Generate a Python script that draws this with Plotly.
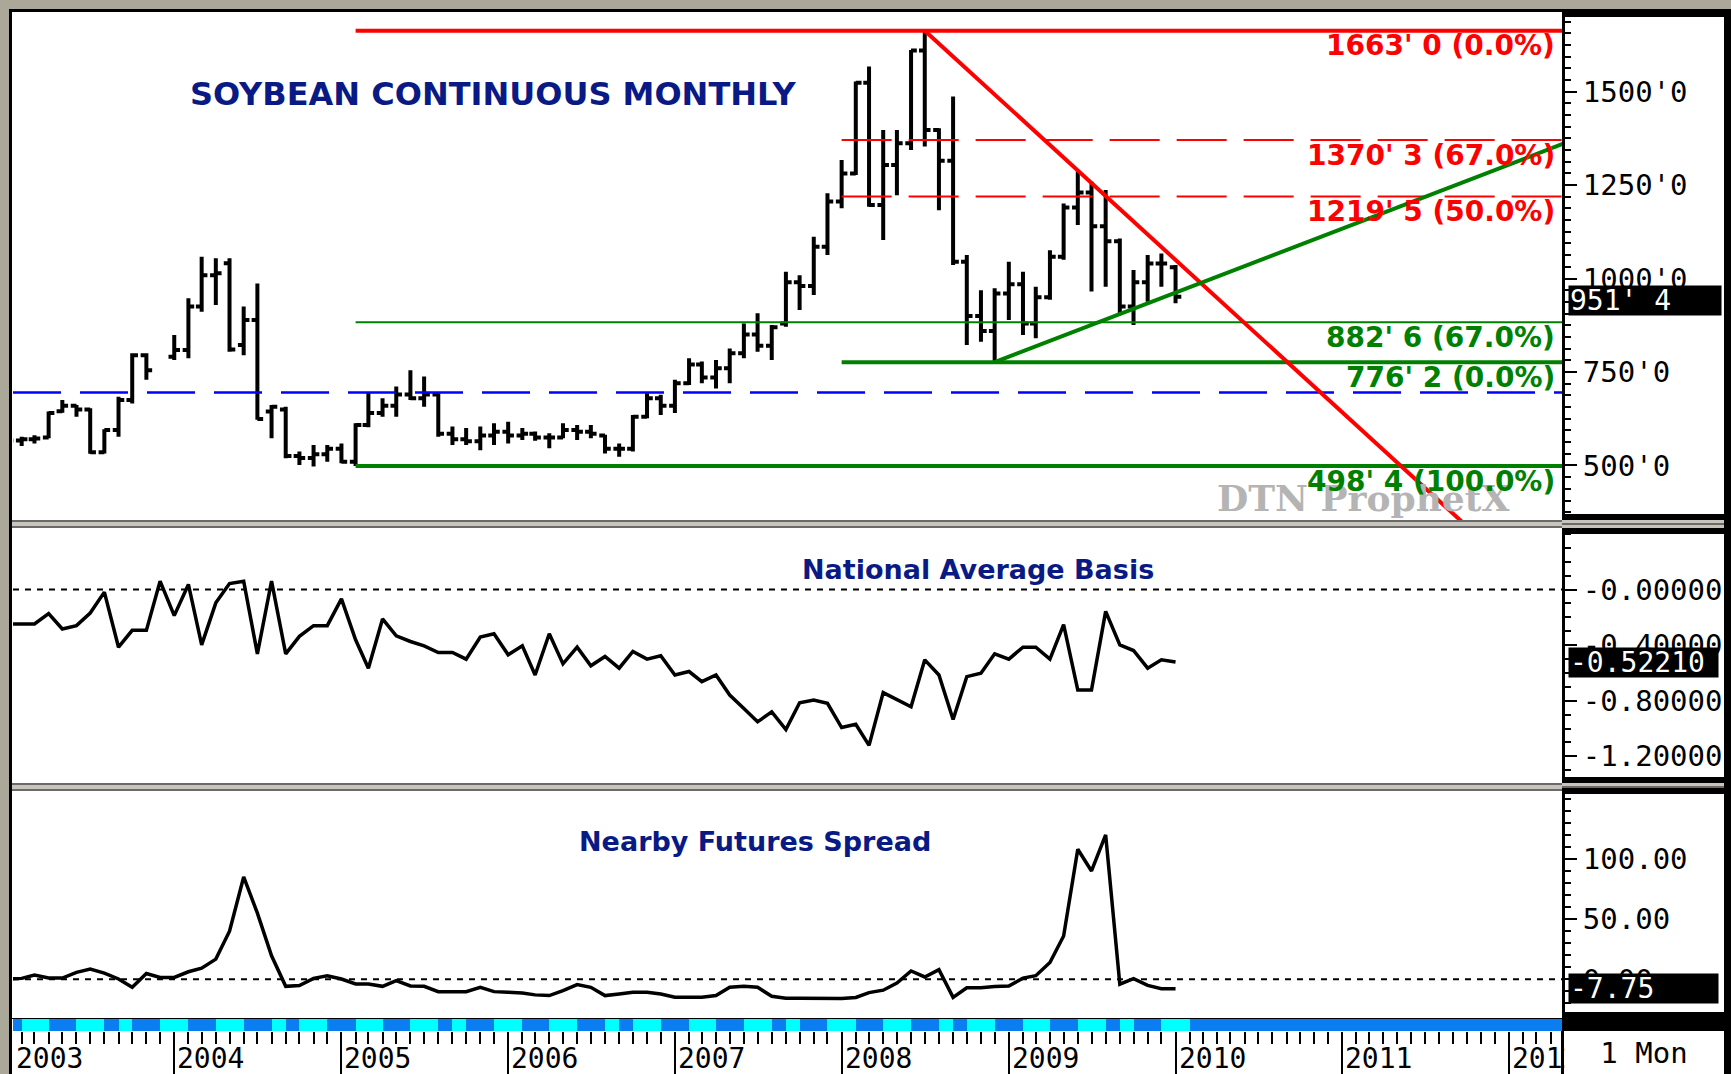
import plotly.graph_objects as go
import pandas as pd

W, H = 1731, 1074

# ---------------- data ----------------
n_months = 85
months = pd.date_range("2003-01-01", periods=n_months, freq="MS")

price_open = [565, 567, 570, 575, 645, 660, 650, 535, 595, 675, 795, None,
              791, 809, 925, 1009, 1041, 822, 889, 644, 650, 525, 520, 530,
              545, 510, 608, 640, 660, 690, 680, 690, 585, 570, 565, 580,
              590, 580, 585, 575, 575, 595, 590, 580, 545, 545, 630, 680,
              660, 720, 770, 735, 760, 800, 850, 820, 880, 990, 980, 1085,
              1206, 1281, 1524, 1197, 1304, 1362, 1610, 1397, 1315, 1045, 900, 860,
              960, 985, 880, 950, 1058, 1190, 1230, 1140, 1100, 925, 990, 1040,
              1030]
price_high = [578, 577, 581, 644, 675, 662, 653, 597, 684, 800, 800, None,
              849, 947, 1058, 1054, 1054, 925, 987, 662, 657, 537, 555, 555,
              559, 613, 695, 680, 711, 755, 738, 693, 604, 600, 604, 613,
              617, 600, 591, 586, 613, 608, 608, 582, 559, 635, 693, 689,
              729, 787, 778, 782, 813, 880, 907, 876, 1018, 1009, 1112, 1228,
              1317, 1527, 1567, 1397, 1397, 1611, 1663, 1402, 1487, 1063, 969, 974,
              1045, 1018, 978, 1076, 1201, 1286, 1259, 1237, 1107, 1023, 1063, 1067,
              1036]
price_low = [556, 552, 559, 573, 641, 630, 531, 532, 577, 666, 729, None,
             782, 787, 911, 929, 804, 795, 622, 573, 519, 501, 497, 510,
             506, 498.5, 602, 630, 630, 675, 657, 577, 555, 555, 541, 555,
             559, 568, 566, 546, 573, 568, 573, 532, 523, 537, 626, 635,
             640, 715, 720, 706, 720, 787, 804, 782, 871, 916, 956, 1063,
             1188, 1277, 1192, 1103, 1223, 1344, 1353, 1183, 1036, 822, 831, 776.25,
             889, 849, 840, 943, 1050, 1143, 965, 978, 907, 876, 938, 978,
             934]
price_close = [567, 570, 572, 640, 660, 650, 535, 595, 675, 795, 755, None,
               809, 925, 1009, 1014, 810, 889, 624, 657, 525, 520, 530, 545,
               510, 608, 640, 660, 690, 680, 690, 585, 570, 565, 580, 590,
               580, 585, 575, 575, 595, 590, 585, 545, 545, 630, 680, 660,
               720, 770, 735, 760, 800, 850, 820, 870, 990, 980, 1085, 1206,
               1281, 1524, 1197, 1304, 1362, 1610, 1397, 1315, 1045, 900, 860, 960,
               985, 880, 950, 1058, 1190, 1230, 1140, 1100, 925, 990, 1040, 1040,
               951.5]

basis = [-0.248, -0.248, -0.248, -0.174, -0.284, -0.260, -0.169, -0.019, -0.415, -0.294, -0.294, 0.060,
         -0.188, 0.036, -0.398, -0.096, 0.043, 0.060, -0.463, 0.060, -0.463, -0.337, -0.260, -0.260,
         -0.067, -0.362, -0.566, -0.212, -0.333, -0.374, -0.405, -0.453, -0.453, -0.501, -0.342, -0.318,
         -0.470, -0.405, -0.615, -0.318, -0.535, -0.415, -0.549, -0.482, -0.566, -0.446, -0.501, -0.477,
         -0.615, -0.590, -0.663, -0.615, -0.759, -0.856, -0.952, -0.880, -1.007, -0.815, -0.795, -0.819,
         -0.993, -0.969, -1.121, -0.742, -0.790, -0.844, -0.506, -0.615, -0.935, -0.627, -0.603, -0.463,
         -0.501, -0.415, -0.415, -0.501, -0.253, -0.723, -0.723, -0.157, -0.398, -0.439, -0.566, -0.506,
         -0.5221]

spread = [0.3, 0.8, 3.6, 1.1, 1.1, 5.8, 8.5, 5.2, 0.3, -6.6, 4.9, 1.6,
          1.6, 6.3, 9.3, 16.8, 40, 85, 55, 19.5, -5.8, -5.2, 0.8, 3,
          0.3, -3.8, -3.8, -5.8, -1.1, -5.5, -5.8, -10.2, -10.2, -10.2, -6.6, -10.2,
          -10.7, -11.3, -12.9, -13.5, -9.3, -4.4, -6.6, -13.5, -12.1, -10.7, -10.7, -12.1,
          -14.8, -14.8, -14.8, -13.5, -6.6, -5.8, -6.6, -14, -15.7, -15.7, -15.7, -15.7,
          -16, -15, -11, -9, -3, 7, 2, 8, -15, -7, -7, -6,
          -5.5, 1, 3, 14, 36, 108, 90, 120, -4, 0.5, -5, -7.75,
          -7.75]

# contract-period strip: B = blue, C = cyan (one letter per month)
strip_colors = list("BCCBBCCBCBBC" "CBBCCBBCBCCB" "BCCBBCCBCBBC" "CBBCCBBCBCCB"
                    "BCCBBCCBCBBC" "CBBCCBBCBCCB" "BCCBBCCBCBBC" "C")

fib_levels = [1663.0, 1370.375, 1219.625, 882.75, 776.25, 498.5]
fib_labels = ["1663' 0 (0.0%)", "1370' 3 (67.0%)", "1219' 5 (50.0%)",
              "882' 6 (67.0%)", "776' 2 (0.0%)", "498' 4 (100.0%)"]
fib_start = ["2005-02-01", "2008-01-01", "2008-01-01", "2005-02-01", "2008-01-01", "2005-02-01"]
blue_level = 695
trend_down_x = ["2008-07-01", "2011-10-01"]
trend_down_y = [1663, 337]
trend_up_x = ["2008-12-01", "2012-05-01"]
trend_up_y = [776.25, 1361.7]
basis_ref = 0
spread_ref = 0

price_ticks = [500, 750, 1000, 1250, 1500]
price_ticktext = ["500'0", "750'0", "1000'0", "1250'0", "1500'0"]
basis_ticks = [0, -0.4, -0.8, -1.2]
basis_ticktext = ["-0.00000", "-0.40000", "-0.80000", "-1.20000"]
spread_ticks = [0, 50, 100]
spread_ticktext = ["0.00", "50.00", "100.00"]
year_labels = ["2003", "2004", "2005", "2006", "2007", "2008", "2009", "2010", "2011", "2012"]
year_pos = ["2003-01-13", "2004-01-01", "2005-01-01", "2006-01-01", "2007-01-01",
            "2008-01-01", "2009-01-01", "2010-01-01", "2011-01-01", "2012-01-01"]

last_price_text = "951' 4"
last_basis_text = "-0.52210"
last_spread_text = "-7.75"

# ---------------- layout geometry (pixels) ----------------
X_L, X_R = 13, 1562
P1 = (13, 520)
P2 = (528, 783)
P3 = (788, 1018)
ST = (1019, 1031)
x_range = ["2003-01-13", "2012-04-26"]
line_end = "2012-06-01"


def fx(p):
    return p / W


def fy(p):
    return 1 - p / H


RED = "#ff0000"
GREEN = "#008000"
NAVY = "#0a1a85"
MONO = "DejaVu Sans Mono"

fig = go.Figure()

# blue dashed reference
fig.add_trace(go.Scatter(x=[x_range[0], line_end], y=[blue_level, blue_level], mode="lines",
                         line=dict(color="#0000ff", width=2.5, dash="48px,19px"),
                         hoverinfo="skip", showlegend=False, yaxis="y"))

# fib levels
fib_style = [(RED, 4, "solid"), (RED, 2, "50px,17px"), (RED, 2, "50px,17px"),
             (GREEN, 2, "solid"), (GREEN, 4, "solid"), (GREEN, 4, "solid")]
for lvl, st, (col, wdt, dash) in zip(fib_levels, fib_start, fib_style):
    fig.add_trace(go.Scatter(x=[st, line_end], y=[lvl, lvl], mode="lines",
                             line=dict(color=col, width=wdt, dash=dash),
                             hoverinfo="skip", showlegend=False, yaxis="y"))

# trend lines
fig.add_trace(go.Scatter(x=trend_down_x, y=trend_down_y, mode="lines",
                         line=dict(color=RED, width=4), hoverinfo="skip",
                         showlegend=False, yaxis="y"))
fig.add_trace(go.Scatter(x=trend_up_x, y=trend_up_y, mode="lines",
                         line=dict(color=GREEN, width=4), hoverinfo="skip",
                         showlegend=False, yaxis="y"))

# price bars
valid = [i for i in range(n_months) if price_open[i] is not None]
fig.add_trace(go.Ohlc(
    x=[months[i] for i in valid],
    open=[price_open[i] for i in valid],
    high=[price_high[i] for i in valid],
    low=[price_low[i] for i in valid],
    close=[price_close[i] for i in valid],
    increasing=dict(line=dict(color="black", width=4)),
    decreasing=dict(line=dict(color="black", width=4)),
    tickwidth=0.45, hoverinfo="skip", showlegend=False, xaxis="x", yaxis="y"))

# basis panel
fig.add_trace(go.Scatter(x=[x_range[0], line_end], y=[basis_ref, basis_ref], mode="lines",
                         line=dict(color="black", width=2, dash="6px,6px"),
                         hoverinfo="skip", showlegend=False, yaxis="y2"))
fig.add_trace(go.Scatter(x=months, y=basis, mode="lines",
                         line=dict(color="black", width=3.5),
                         hoverinfo="skip", showlegend=False, yaxis="y2"))

# spread panel
fig.add_trace(go.Scatter(x=[x_range[0], line_end], y=[spread_ref, spread_ref], mode="lines",
                         line=dict(color="black", width=2, dash="6px,6px"),
                         hoverinfo="skip", showlegend=False, yaxis="y3"))
fig.add_trace(go.Scatter(x=months, y=spread, mode="lines",
                         line=dict(color="black", width=3.5),
                         hoverinfo="skip", showlegend=False, yaxis="y3"))

# contract strip
cyan_idx = [i for i, c in enumerate(strip_colors) if c == "C"]
widths = []
for i in cyan_idx:
    nxt = months[i + 1] if i + 1 < n_months else months[i] + pd.DateOffset(months=1)
    widths.append((nxt - months[i]).total_seconds() * 1000)
fig.add_trace(go.Bar(x=[months[i] for i in cyan_idx], y=[1] * len(cyan_idx), base=0,
                     width=widths, offset=0,
                     marker=dict(color="#00ffff", line=dict(width=0)),
                     hoverinfo="skip", showlegend=False, yaxis="y4"))

# ---------------- axes ----------------
yfont = dict(family=MONO, size=29, color="black")
common_y = dict(side="right", anchor="x", showgrid=False, zeroline=False,
                showline=True, linecolor="black", linewidth=3,
                ticks="outside", ticklen=12, tickwidth=2, tickcolor="black",
                tickfont=yfont, fixedrange=True)

fig.update_layout(
    width=W, height=H, autosize=False,
    margin=dict(l=0, r=0, t=0, b=0),
    paper_bgcolor="white", plot_bgcolor="white",
    hovermode=False, showlegend=False, bargap=0,
    xaxis=dict(domain=[fx(X_L), fx(X_R)], range=x_range, type="date", anchor="y4",
               rangeslider=dict(visible=False),
               showgrid=False, zeroline=False, showline=False,
               tick0="2003-01-01", dtick="M12", ticks="outside", ticklen=43,
               tickwidth=2, tickcolor="black", showticklabels=False,
               minor=dict(dtick="M1", tick0="2003-01-01", ticks="outside", ticklen=12,
                          tickwidth=2, tickcolor="black", showgrid=False)),
    yaxis=dict(domain=[fy(P1[1]), fy(P1[0])], range=[354.1, 1710.3],
               tickvals=price_ticks, ticktext=price_ticktext,
               minor=dict(tick0=0, dtick=31.25, ticks="outside", ticklen=6,
                          tickwidth=2, tickcolor="black", showgrid=False),
               **common_y),
    yaxis2=dict(domain=[fy(P2[1]), fy(P2[0])], range=[-1.392, 0.4424],
                tickvals=basis_ticks, ticktext=basis_ticktext,
                minor=dict(tick0=0, dtick=0.1, ticks="outside", ticklen=6,
                           tickwidth=2, tickcolor="black", showgrid=False),
                **common_y),
    yaxis3=dict(domain=[fy(P3[1]), fy(P3[0])], range=[-32.1, 158.9],
                tickvals=spread_ticks, ticktext=spread_ticktext,
                minor=dict(tick0=0, dtick=10, ticks="outside", ticklen=6,
                           tickwidth=2, tickcolor="black", showgrid=False),
                **common_y),
    yaxis4=dict(domain=[fy(ST[1]), fy(ST[0])], range=[0, 1], anchor="x",
                showgrid=False, zeroline=False, showline=False, ticks="",
                showticklabels=False, fixedrange=True),
)

# ---------------- frame shapes ----------------
shapes = []


def prect(x0, y0, x1, y1, fill, layer="above"):
    shapes.append(dict(type="rect", xref="paper", yref="paper",
                       x0=fx(x0), x1=fx(x1), y0=fy(y1), y1=fy(y0),
                       fillcolor=fill, line=dict(width=0), layer=layer))


# strip background
shapes.append(dict(type="rect", xref="x domain", yref="y4 domain", x0=0, x1=1, y0=0, y1=1,
                   fillcolor="#0a7df0", line=dict(width=0), layer="below"))

FRAME = "#aca899"
prect(0, 0, W, 9, FRAME)
prect(0, 0, 9, H, FRAME)
prect(9, 9, W, 12, "black")
prect(9, 9, 12, H, "black")
# separators between panels
for top in (P1[1], P2[1]):
    prect(12, top, X_R, top + 8, "#c8c4bc")
    prect(12, top, X_R, top + 2, "#6a6a6a")
    prect(12, top + 6, X_R, top + 8, "#6a6a6a")
    prect(X_R, top, 1727, top + 8, "#c8c4bc")
    prect(X_R, top + 3, 1727, top + 5, "#6a6a6a")
# right axis bands
prect(X_R, 9, 1727, 17, "black")
prect(X_R, P1[1] - 6, 1727, P1[1], "black")
prect(X_R, P2[0], 1727, P2[0] + 6, "black")
prect(X_R, P2[1] - 6, 1727, P2[1], "black")
prect(X_R, P3[0], 1727, P3[0] + 6, "black")
prect(X_R, 1012, 1727, ST[1], "black")
prect(1724, 9, 1731, H, "black")
prect(X_R - 1, ST[1], X_R + 2, H, "black")
prect(12, ST[0] - 1, X_R, ST[0], "black")

fig.update_layout(shapes=shapes)

# ---------------- annotations ----------------
ann = []
ann.append(dict(text="<b>SOYBEAN CONTINUOUS MONTHLY</b>", xref="paper", yref="paper",
                x=fx(188), y=fy(94), xanchor="left", yanchor="middle", showarrow=False,
                font=dict(family="DejaVu Sans", size=32, color=NAVY)))
ann.append(dict(text="<b>National Average Basis</b>", xref="paper", yref="paper",
                x=fx(978), y=fy(569), xanchor="center", yanchor="middle", showarrow=False,
                font=dict(family="DejaVu Sans", size=27, color=NAVY)))
ann.append(dict(text="<b>Nearby Futures Spread</b>", xref="paper", yref="paper",
                x=fx(755), y=fy(841), xanchor="center", yanchor="middle", showarrow=False,
                font=dict(family="DejaVu Sans", size=27, color=NAVY)))
ann.append(dict(text="<b>DTN ProphetX</b>", xref="paper", yref="paper",
                x=fx(1363), y=fy(498), xanchor="center", yanchor="middle", showarrow=False,
                font=dict(family="DejaVu Serif", size=36, color="#b4b4b4")))

for lvl, lab, (col, _, _) in zip(fib_levels, fib_labels, fib_style):
    ann.append(dict(text="<b>" + lab + "</b>", xref="paper", yref="y", x=fx(1557), y=lvl,
                    xanchor="right", yanchor="middle", yshift=-15, showarrow=False,
                    font=dict(family="DejaVu Sans", size=28, color=col)))

for lab, pos in zip(year_labels, year_pos):
    ann.append(dict(text=lab, xref="x", yref="paper", x=pos, y=0,
                    xanchor="left", yanchor="bottom", xshift=2, yshift=-2, showarrow=False,
                    borderpad=0, font=dict(family=MONO, size=28, color="black")))

box_font = dict(family=MONO, size=28, color="white")
ann.append(dict(text=last_price_text, xref="paper", yref="y", x=fx(1568), y=price_close[-1],
                xanchor="left", yanchor="middle", yshift=-4, showarrow=False, align="left",
                width=150, height=27, bgcolor="black", borderpad=1, font=box_font))
ann.append(dict(text=last_basis_text, xref="paper", yref="y2", x=fx(1568), y=basis[-1],
                xanchor="left", yanchor="middle", showarrow=False, align="left",
                width=147, height=27, bgcolor="black", borderpad=1, font=box_font))
ann.append(dict(text=last_spread_text, xref="paper", yref="y3", x=fx(1568), y=spread[-1],
                xanchor="left", yanchor="middle", showarrow=False, align="left",
                width=147, height=27, bgcolor="black", borderpad=1, font=box_font))
ann.append(dict(text="1 Mon", xref="paper", yref="paper", x=fx(X_R + 2), y=fy(ST[1]),
                xanchor="left", yanchor="top", showarrow=False, align="center",
                width=158, height=42, bgcolor="white", borderpad=0,
                font=dict(family=MONO, size=29, color="black")))

fig.update_layout(annotations=ann)

fig.write_html("out.html", config={"displayModeBar": False},
               post_script="document.body.style.margin='0px';document.body.style.overflow='hidden';")
